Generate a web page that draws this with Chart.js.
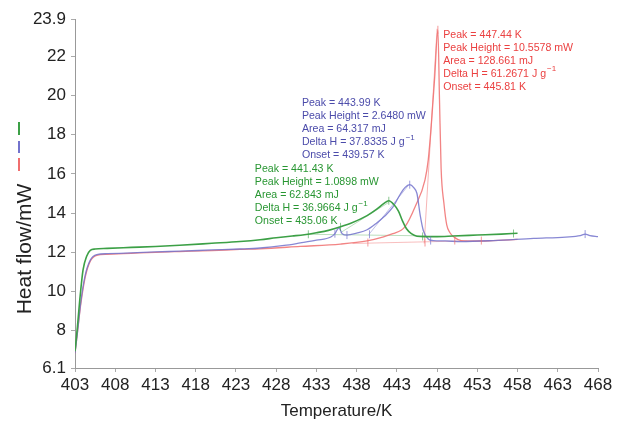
<!DOCTYPE html>
<html>
<head>
<meta charset="utf-8">
<script src="https://cdn.jsdelivr.net/npm/chart.js@4.4.1/dist/chart.umd.min.js"></script>
<style>
  html, body { margin: 0; padding: 0; background: #fff; }
</style>
</head>
<body>
<canvas id="myChart" width="617" height="423"></canvas>
<script>
// DSC curves (temperature in K, heat flow in mW)
let greenT  = [403.0, 403.3, 403.6, 404.0, 404.45, 404.9, 405.5, 407, 410, 413, 416, 420, 423.5, 426, 428, 430, 431.5, 433, 434.5, 436, 437.5, 439.3, 440.5, 441.4, 442.0, 442.6, 443.2, 443.7, 444.2, 444.8, 445.5, 446.5, 448, 450, 453, 456, 458];
let greenHF = [6.95, 8.2, 9.6, 11.1, 11.8, 12.1, 12.17, 12.2, 12.25, 12.3, 12.36, 12.46, 12.55, 12.64, 12.74, 12.83, 12.9, 13.0, 13.12, 13.3, 13.52, 13.87, 14.2, 14.5, 14.63, 14.45, 14.1, 13.6, 13.2, 12.95, 12.82, 12.8, 12.8, 12.83, 12.88, 12.93, 12.97];

let blueT  = [403.0, 403.3, 403.7, 404.25, 404.9, 405.7, 407, 410, 413, 416, 420, 423.5, 426, 429, 431, 433, 434.8, 435.3, 435.8, 436.2, 436.8, 438, 439.3, 440.5, 441.5, 442.5, 443.4, 444.0, 444.6, 445.1, 445.5, 445.9, 446.3, 446.9, 447.5, 449, 451, 455, 460, 464, 465.8, 466.4, 467, 468];
let blueHF = [6.85, 7.9, 9.4, 10.8, 11.6, 11.88, 11.93, 11.97, 12.02, 12.06, 12.12, 12.17, 12.22, 12.35, 12.48, 12.62, 12.78, 12.95, 13.25, 12.95, 12.88, 12.98, 13.15, 13.5, 13.85, 14.3, 14.95, 15.3, 15.45, 15.3, 15.0, 13.9, 13.1, 12.68, 12.6, 12.58, 12.55, 12.6, 12.71, 12.78, 12.85, 12.93, 12.85, 12.8];

let redT  = [403.0, 403.3, 403.7, 404.25, 404.9, 405.7, 407, 410, 413, 416, 420, 423.5, 426, 431, 436, 439.3, 441, 442.5, 444, 445.3, 446.5, 446.9, 447.3, 447.7, 448.1, 448.3, 448.5, 448.85, 449.2, 449.6, 450.2, 451, 453, 455, 458];
let redHF = [6.85, 7.9, 9.3, 10.7, 11.55, 11.85, 11.9, 11.95, 12.0, 12.04, 12.09, 12.15, 12.18, 12.3, 12.42, 12.58, 12.75, 12.95, 13.3, 14.35, 15.7, 16.7, 18.6, 20.9, 23.35, 19.8, 16.3, 14.5, 13.4, 13.0, 12.75, 12.6, 12.57, 12.6, 12.66];

// baselines / onset tangents drawn by the analysis software
let greenBaseT = [432, 446.5],   greenBaseHF = [12.92, 12.84];
let greenTanT  = [436, 442],     greenTanHF  = [13.0, 14.55];
let blueTanT   = [439.5, 444.4], blueTanHF   = [12.9, 15.4];
let redBaseT   = [437.5, 453.5], redBaseHF   = [12.45, 12.6];
let redTanT    = [446.4, 448.0], redTanHF    = [12.45, 23.4];

// little limit marks on the curves
let greenMarkT = [432, 436, 442.0, 446.2, 457.5], greenMarkHF = [12.92, 13.3, 14.63, 12.81, 12.96];
let blueMarkT  = [435.3, 436.8, 439.6, 444.6, 447.2, 466.4], blueMarkHF = [12.95, 12.88, 12.92, 15.45, 12.6, 12.93];
let redMarkT   = [439.4, 446.5, 448.1, 450.2, 453.5], redMarkHF = [12.5, 12.5, 23.35, 12.6, 12.6];

let xTicks = [403, 408, 413, 418, 423, 428, 433, 438, 443, 448, 453, 458, 463, 468];
let yTicks = [6.1, 8, 10, 12, 14, 16, 18, 20, 22, 23.9];

let redNote   = ['Peak = 447.44 K', 'Peak Height = 10.5578 mW', 'Area = 128.661 mJ', 'Delta H = 61.2671 J g', 'Onset = 445.81 K'];
let blueNote  = ['Peak = 443.99 K', 'Peak Height = 2.6480 mW', 'Area = 64.317 mJ', 'Delta H = 37.8335 J g', 'Onset = 439.57 K'];
let greenNote = ['Peak = 441.43 K', 'Peak Height = 1.0898 mW', 'Area = 62.843 mJ', 'Delta H = 36.9664 J g', 'Onset = 435.06 K'];

const GREEN = 'rgb(60,160,70)', BLUE = 'rgba(115,115,205,0.85)', RED = 'rgba(240,110,110,0.85)';
const FONT = '"Liberation Sans", Arial, Helvetica, sans-serif';

function pts(t, v) { return t.map((x, i) => ({x: x, y: v[i]})); }

function curve(t, v, color, w, order) {
  return { data: pts(t, v), borderColor: color, borderWidth: w, pointRadius: 0,
           showLine: true, cubicInterpolationMode: 'monotone', order: order };
}
function marks(t, v, color) {
  return { data: pts(t, v), borderColor: color, backgroundColor: color, pointStyle: 'line',
           rotation: 90, pointRadius: 4, borderWidth: 1, showLine: false, order: 0 };
}

const notes = {
  id: 'notes',
  afterDraw(chart) {
    const ctx = chart.ctx, x = chart.scales.x, y = chart.scales.y;
    ctx.save();
    ctx.textBaseline = 'middle';
    [[redNote, 448.77, 23.07, 'rgb(235,65,65)'],
     [blueNote, 431.2, 19.59, 'rgb(75,75,170)'],
     [greenNote, 425.35, 16.23, 'rgb(40,150,50)']].forEach(b => {
      let px = x.getPixelForValue(b[1]), py = y.getPixelForValue(b[2]);
      ctx.fillStyle = b[3];
      b[0].forEach((ln, i) => {
        ctx.font = '10.6px ' + FONT;
        ctx.fillText(ln, px, py + i * 13);
        if (ln.startsWith('Delta')) {
          let w = ctx.measureText(ln).width;
          ctx.font = '8px ' + FONT;
          ctx.fillText('\u22121', px + w + 1, py + i * 13 - 5);
        }
      });
    });

    // axis titles
    ctx.fillStyle = '#222';
    ctx.textAlign = 'center';
    ctx.font = '17px ' + FONT;
    ctx.fillText('Temperature/K', (chart.chartArea.left + chart.chartArea.right) / 2, 411);
    ctx.translate(25, 249);
    ctx.rotate(-Math.PI / 2);
    ctx.font = '21px ' + FONT;
    ctx.fillText('Heat flow/mW', 0, 0);
    ctx.restore();

    // vertical legend samples
    ctx.save();
    ctx.lineWidth = 2;
    [[GREEN, 122, 135], ['rgb(115,115,205)', 141, 153], ['rgb(240,110,110)', 158, 171]].forEach(m => {
      ctx.strokeStyle = m[0];
      ctx.beginPath();
      ctx.moveTo(19, m[1]);
      ctx.lineTo(19, m[2]);
      ctx.stroke();
    });
    ctx.restore();
  }
};

let ctx = document.getElementById('myChart').getContext('2d');
let myChart = new Chart(ctx, {
  type: 'scatter',
  data: {
    datasets: [
      curve(greenT, greenHF, GREEN, 1.6, 1),
      curve(blueT, blueHF, BLUE, 1.3, 2),
      curve(redT, redHF, RED, 1.3, 3),
      curve(greenBaseT, greenBaseHF, 'rgba(60,160,70,0.35)', 1, 4),
      curve(greenTanT, greenTanHF, 'rgba(60,160,70,0.35)', 1, 4),
      curve(blueTanT, blueTanHF, 'rgba(115,115,205,0.45)', 1, 4),
      curve(redBaseT, redBaseHF, 'rgba(240,110,110,0.45)', 1, 4),
      curve(redTanT, redTanHF, 'rgba(240,110,110,0.5)', 1, 4),
      marks(greenMarkT, greenMarkHF, 'rgba(60,160,70,0.6)'),
      marks(blueMarkT, blueMarkHF, 'rgba(115,115,205,0.7)'),
      marks(redMarkT, redMarkHF, 'rgba(240,110,110,0.7)')
    ]
  },
  options: {
    responsive: false,
    animation: false,
    devicePixelRatio: 1,
    layout: { padding: { top: 19, right: 19, left: 0, bottom: 0 } },
    plugins: { legend: { display: false }, tooltip: { enabled: false } },
    scales: {
      x: {
        type: 'linear', min: 403, max: 468,
        afterBuildTicks: s => { s.ticks = xTicks.map(v => ({value: v})); },
        afterFit: s => { s.height = 55; },
        ticks: { color: '#222', font: { size: 17, family: FONT }, padding: 3, maxRotation: 0, autoSkip: false, callback: v => v },
        grid: { drawOnChartArea: false, tickLength: 4, color: '#aaa' },
        border: { color: '#999' }
      },
      y: {
        type: 'linear', min: 6.1, max: 23.9,
        afterBuildTicks: s => { s.ticks = yTicks.map(v => ({value: v})); },
        afterFit: s => { s.width = 75; },
        ticks: { color: '#222', font: { size: 17, family: FONT }, padding: 5, autoSkip: false, callback: v => v },
        grid: { drawOnChartArea: false, tickLength: 4, color: '#aaa' },
        border: { color: '#999' }
      }
    }
  },
  plugins: [notes]
});
</script>
</body>
</html>
